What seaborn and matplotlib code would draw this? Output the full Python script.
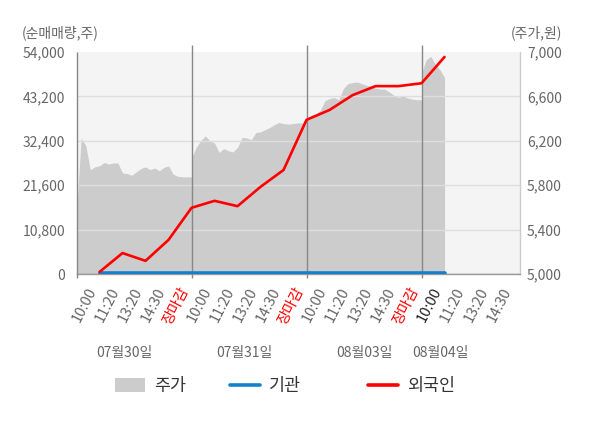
import numpy as np
import matplotlib
matplotlib.use("Agg")
import matplotlib.pyplot as plt
import seaborn as sns
from matplotlib.patches import Patch
from matplotlib.lines import Line2D
from matplotlib.ticker import FuncFormatter, FixedLocator
import matplotlib.transforms as mtransforms

# ---------------- data ----------------
tick_labels = ["10:00", "11:20", "13:20", "14:30", "장마감",
               "10:00", "11:20", "13:20", "14:30", "장마감",
               "10:00", "11:20", "13:20", "14:30", "장마감",
               "10:00", "11:20", "13:20", "14:30"]
date_labels = ["07월30일", "07월31일", "08월03일", "08월04일"]

# price (원), sampled every 0.2 tick-interval within each day
price_day1 = [5530, 6225, 6160, 5940, 5965, 5975, 6005, 5990, 6000, 6000,
              5910, 5905, 5890, 5920, 5950, 5965, 5940, 5955, 5930, 5960,
              5975, 5900, 5880, 5875, 5875, 5875]
price_day2 = [6045, 6140, 6200, 6245, 6200, 6180, 6095, 6130, 6110, 6100,
              6140, 6230, 6225, 6210, 6275, 6280, 6300, 6320, 6345, 6365,
              6355, 6350, 6355, 6360, 6360, 6370]
price_day3 = [6380, 6430, 6440, 6475, 6560, 6580, 6590, 6570, 6670, 6715,
              6725, 6730, 6715, 6700, 6690, 6675, 6665, 6665, 6640, 6610,
              6590, 6605, 6585, 6575, 6570, 6570]
price_day4 = [6810, 6930, 6960, 6890, 6840, 6770]

# net buying volume (주) at tick points 1..16
foreign = [500, 5100, 3200, 8300, 16100, 17800, 16500, 21200, 25300,
           37500, 39900, 43500, 45700, 45700, 46400, 52800]
institution = [300, 300, 300, 300, 300, 300, 300, 300, 300,
               300, 300, 300, 300, 300, 300, 300]

left_ticks = [0, 10800, 21600, 32400, 43200, 54000]
right_ticks = [5000, 5400, 5800, 6200, 6600, 7000]

# ---------------- style ----------------
sns.set_theme(style="white")
plt.rcParams["font.family"] = ["Noto Sans CJK KR", "DejaVu Sans"]

GRAY_TXT = "#666666"
AREA = "#cccccc"
BG = "#f4f4f4"
RED = "#ff0000"
BLUE = "#1280cc"

fig = plt.figure(figsize=(6, 4.28), dpi=100)
ax = fig.add_axes([76.5 / 600, 1 - 274 / 428, 443.5 / 600, 222 / 428])
axp = ax.twinx()

ax.set_zorder(2)
axp.set_zorder(1)
ax.patch.set_visible(False)
axp.patch.set_visible(True)
axp.set_facecolor(BG)

# price area
days = [price_day1, price_day2, price_day3, price_day4]
px, py = [], []
for d, vals in enumerate(days):
    xs = 5 * d + np.arange(len(vals)) * 0.2
    px.extend(xs)
    py.extend(vals)
px = np.array(px)
py = np.array(py)
axp.fill_between(px, py, 5000, color=AREA, lw=0)
axp.set_ylim(5000, 7000)

# lines
xpts = np.arange(1, len(foreign) + 1)
sns.lineplot(x=xpts, y=institution, ax=ax, color=BLUE, linewidth=2.6,
             legend=False, zorder=5)
sns.lineplot(x=xpts, y=foreign, ax=ax, color=RED, linewidth=1.9,
             legend=False, zorder=6)

ax.set_ylim(0, 54000)
ax.set_xlim(0, 19.28)
axp.set_xlim(0, 19.28)

# grid lines
for v in left_ticks[1:-1]:
    ax.axhline(v, color="#dedede", lw=1, zorder=1)
ax.axhline(0, color="#999999", lw=1, zorder=1)

# day separators + left edge
xt = ax.get_xaxis_transform()
ax.vlines([5, 10, 15], -0.018, 1.032, transform=xt, colors="#888888",
          lw=1, clip_on=False, zorder=3)
ax.vlines([0], -0.018, 1.0, transform=xt, colors="#888888",
          lw=1, clip_on=False, zorder=3)

# spines
for s in ["top", "right", "left"]:
    ax.spines[s].set_visible(False)
ax.spines["bottom"].set_color("#999999")
ax.spines["bottom"].set_linewidth(1)
for s in ["top", "left", "bottom"]:
    axp.spines[s].set_visible(False)
axp.spines["right"].set_color("#cccccc")
axp.spines["right"].set_linewidth(1)

# y ticks
ax.yaxis.set_major_locator(FixedLocator(left_ticks))
ax.yaxis.set_major_formatter(FuncFormatter(lambda v, p: f"{int(v):,}"))
axp.yaxis.set_major_locator(FixedLocator(right_ticks))
axp.yaxis.set_major_formatter(FuncFormatter(lambda v, p: f"{int(v):,}"))
ax.tick_params(axis="y", length=0, pad=8, labelsize=10, labelcolor=GRAY_TXT)
axp.tick_params(axis="y", length=0, pad=5, labelsize=10, labelcolor=GRAY_TXT)

# x ticks
ax.set_xticks(np.arange(1, len(tick_labels) + 1))
ax.set_xticklabels(tick_labels, rotation=63, ha="right")
ax.tick_params(axis="x", length=0, pad=8, labelsize=10.5, labelcolor=GRAY_TXT)
axp.tick_params(axis="x", length=0, labelbottom=False)
for i, lab in enumerate(ax.get_xticklabels()):
    if tick_labels[i] == "장마감":
        lab.set_color(RED)
    elif i == 15:
        lab.set_color("#222222")

# date labels
bt = mtransforms.blended_transform_factory(ax.transData, fig.transFigure)
date_pos = [2.1, 7.3, 12.5, 15.8]
for xpos, lab in zip(date_pos, date_labels):
    ax.text(xpos, 1 - 353 / 428, lab, transform=bt, ha="center", va="center",
            fontsize=10, color=GRAY_TXT)

# axis titles
fig.text(22 / 600, 1 - 33 / 428, "(순매매량,주)", ha="left", va="center",
         fontsize=10, color=GRAY_TXT)
fig.text(562 / 600, 1 - 33 / 428, "(주가,원)", ha="right", va="center",
         fontsize=10, color=GRAY_TXT)

# legend (three single-entry legends)
entries = [
    (Patch(facecolor=AREA, edgecolor="none"), "주가", 115),
    (Line2D([0], [0], color=BLUE, lw=2.6), "기관", 230),
    (Line2D([0], [0], color=RED, lw=2.6), "외국인", 368),
]
for h, lab, xl in entries:
    fig.legend([h], [lab], loc="center left",
               bbox_to_anchor=(xl / 600, 1 - 386 / 428),
               frameon=False, fontsize=12.5, handlelength=1.75,
               handleheight=0.85, handletextpad=0.5, borderpad=0,
               borderaxespad=0, labelcolor="#333333")

fig.savefig("out.png", dpi=100, facecolor="white")
